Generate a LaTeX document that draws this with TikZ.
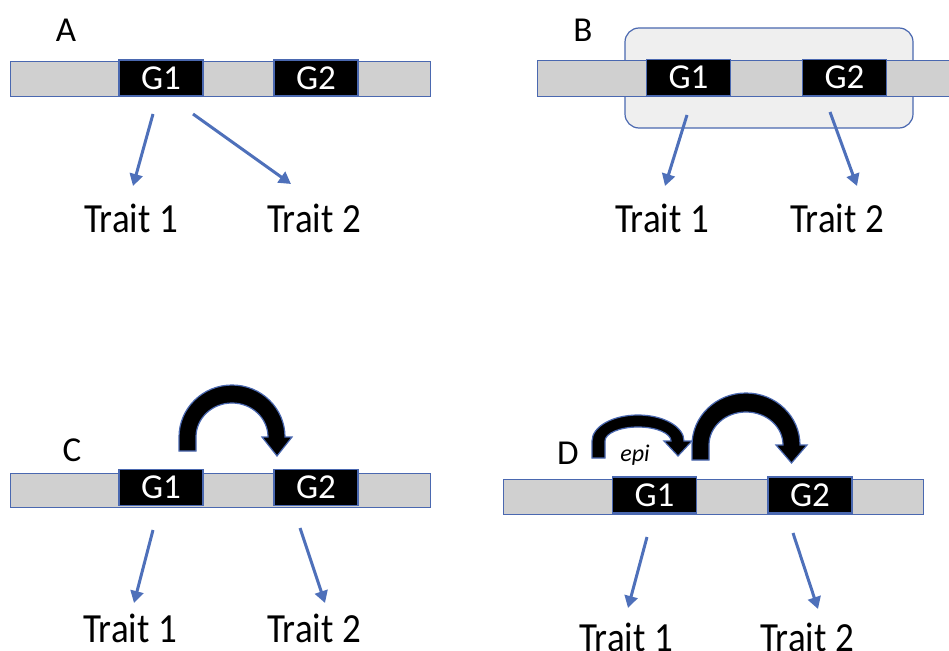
\documentclass[tikz,border=0pt]{standalone}
\usepackage{fontspec}
\setmainfont{Carlito}
\usetikzlibrary{arrows.meta}
\definecolor{bord}{HTML}{4A68B0}
\definecolor{arr}{HTML}{4E70BA}
\definecolor{barfill}{HTML}{D0D0D0}
\definecolor{boxfill}{HTML}{EFEFEF}
\begin{document}
\begin{tikzpicture}[x=1pt,y=1pt,
 chrom/.style={draw=bord, fill=barfill, line width=1pt, inner sep=0pt},
 gene/.style={draw=bord, fill=black, line width=1.2pt, minimum width=84pt, minimum height=36pt, inner sep=0pt, text=white, font=\fontsize{35}{36}\selectfont},
 lab/.style={font=\fontsize{35}{36}\selectfont, anchor=base, inner sep=0pt},
 trait/.style={font=\fontsize{37}{38}\selectfont, anchor=base, inner sep=0pt},
 link/.style={draw=arr, line width=3pt, -{Triangle[length=12pt,width=13pt]}},
 block/.style={fill=black, draw=bord, line width=1.2pt, line join=miter}]
\useasboundingbox (0,0) rectangle (949,-650);

% ---------- Panel A ----------
\node[lab] (labA) at (66,-42) {A};
\node[chrom, minimum width=420pt, minimum height=35pt] (barA) at (220,-79.5) {};
\node[gene] (g1A) at (161,-78) {G1};
\node[gene] (g2A) at (316,-78) {G2};
\node[trait] (t1A) at (131,-232) {\scalebox{1}[1.12]{Trait 1}};
\node[trait] (t2A) at (314,-232) {\scalebox{1}[1.12]{Trait 2}};
\coordinate (a1s) at (153,-114); \coordinate (a1e) at (133,-186);
\coordinate (a2s) at (193,-114); \coordinate (a2e) at (291,-184);
\draw[link] (a1s) -- (a1e);
\draw[link] (a2s) -- (a2e);

% ---------- Panel B ----------
\node[lab] (labB) at (583,-42) {B};
\node[draw=bord, fill=boxfill, rounded corners=14pt, line width=1.2pt, minimum width=288pt, minimum height=100pt, inner sep=0pt] (grpB) at (769,-78) {};
\node[chrom, minimum width=423pt, minimum height=36pt] (barB) at (748.5,-79) {};
\node[gene] (g1B) at (688.5,-77.5) {G1};
\node[gene] (g2B) at (844.5,-77.5) {G2};
\node[trait] (t1B) at (662,-232) {\scalebox{1}[1.12]{Trait 1}};
\node[trait] (t2B) at (837,-232) {\scalebox{1}[1.12]{Trait 2}};
\coordinate (b1s) at (687,-115); \coordinate (b1e) at (665,-186);
\coordinate (b2s) at (830,-112); \coordinate (b2e) at (857,-186);
\draw[link] (b1s) -- (b1e);
\draw[link] (b2s) -- (b2e);

% ---------- Panel C ----------
\node[lab] (labC) at (72,-461) {C};
\node[chrom, minimum width=420pt, minimum height=34pt] (barC) at (220,-490) {};
\node[gene] (g1C) at (161,-487.5) {G1};
\node[gene] (g2C) at (316,-487.5) {G2};
\draw[block] (179,-451) -- (179,-437) arc[start angle=180, end angle=0, x radius=53, y radius=52]
  -- (292,-437) -- (277,-456) -- (262,-437) -- (268,-437)
  arc[start angle=0, end angle=180, x radius=36, y radius=34] -- (196,-451) -- cycle;
\node[trait] (t1C) at (130,-642) {\scalebox{1}[1.12]{Trait 1}};
\node[trait] (t2C) at (314,-642) {\scalebox{1}[1.12]{Trait 2}};
\coordinate (c1s) at (153,-530); \coordinate (c1e) at (134,-603);
\coordinate (c2s) at (300,-528); \coordinate (c2e) at (325,-603);
\draw[link] (c1s) -- (c1e);
\draw[link] (c2s) -- (c2e);

% ---------- Panel D ----------
\node[lab] (labD) at (568,-464) {D};
\node[chrom, minimum width=420pt, minimum height=35pt] (barD) at (713,-496.5) {};
\node[gene] (g1D) at (654.5,-495) {G1};
\node[gene] (g2D) at (810,-495) {G2};
\draw[block] (592,-458) -- (592,-441) arc[start angle=180, end angle=0, x radius=46, y radius=26]
  -- (692,-441) -- (678,-456) -- (664,-441) -- (671,-441)
  arc[start angle=0, end angle=180, x radius=33, y radius=14] -- (605,-458) -- cycle;
\draw[block] (692,-460) -- (692,-445) arc[start angle=180, end angle=0, x radius=54, y radius=52]
  -- (807,-445) -- (791.5,-463) -- (776,-445) -- (783,-445)
  arc[start angle=0, end angle=180, x radius=37, y radius=33] -- (709,-460) -- cycle;
\node[font=\fontsize{24}{26}\selectfont\itshape, anchor=base, inner sep=0pt] (epi) at (635,-461) {epi};
\node[trait] (t1D) at (626,-651) {\scalebox{1}[1.12]{Trait 1}};
\node[trait] (t2D) at (807,-651) {\scalebox{1}[1.12]{Trait 2}};
\coordinate (d1s) at (647,-537); \coordinate (d1e) at (628,-608);
\coordinate (d2s) at (793,-533); \coordinate (d2e) at (818,-609);
\draw[link] (d1s) -- (d1e);
\draw[link] (d2s) -- (d2e);
\end{tikzpicture}
\end{document}
